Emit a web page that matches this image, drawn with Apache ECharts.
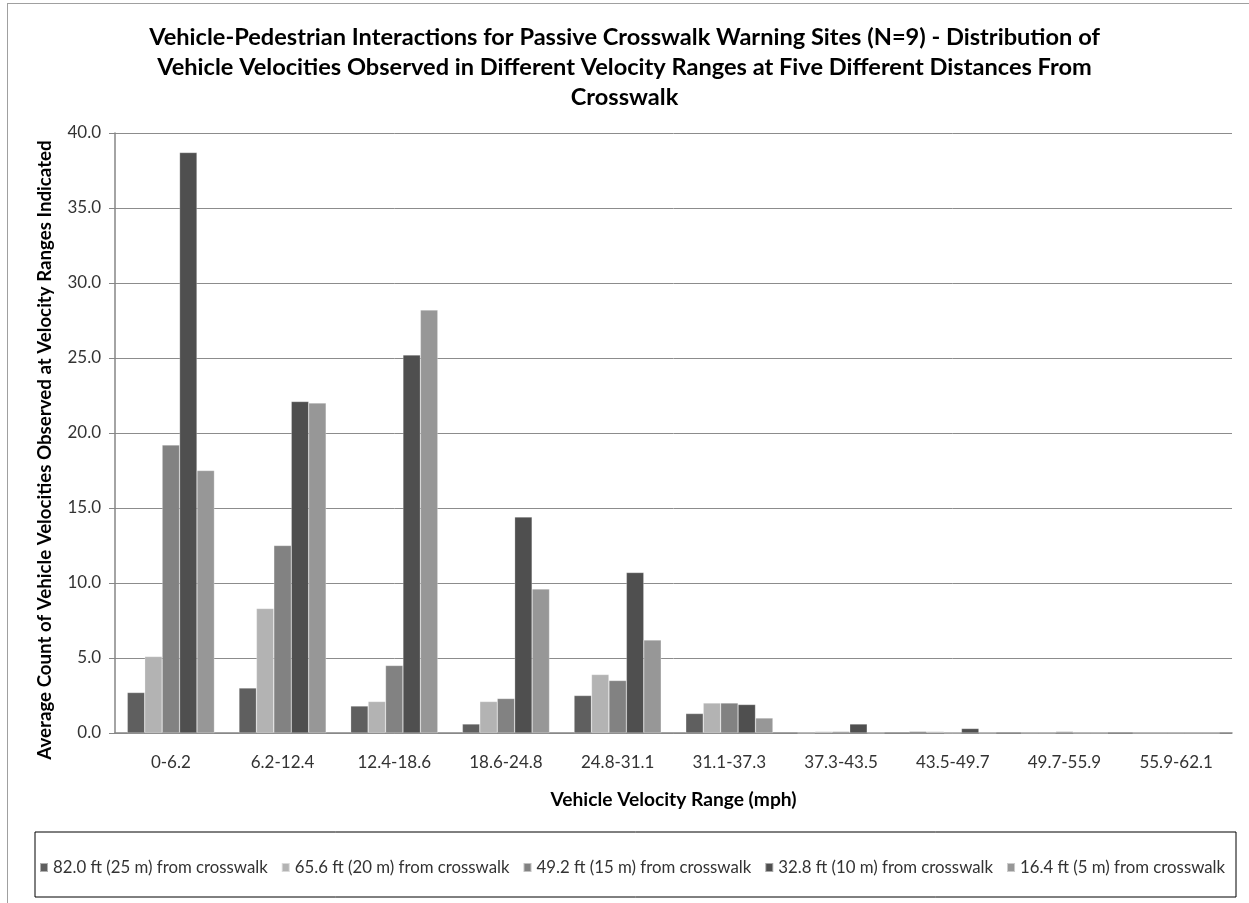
<!DOCTYPE html>
<html>
<head>
<meta charset="utf-8">
<script src="https://cdn.jsdelivr.net/npm/echarts@6/dist/echarts.min.js"></script>
<style>
  html, body { margin: 0; padding: 0; background: #fff; }
  #frame { position: absolute; left: 7px; top: 3px; width: 1260px; height: 920px; border: 1px solid #a0a0a0; }
  #chart { position: absolute; left: 0; top: 0; width: 1249px; height: 903px; }
</style>
</head>
<body>
<div id="frame"></div>
<div id="chart"></div>
<script>
// velocity ranges (mph)
const categories = ['0-6.2', '6.2-12.4', '12.4-18.6', '18.6-24.8', '24.8-31.1',
  '31.1-37.3', '37.3-43.5', '43.5-49.7', '49.7-55.9', '55.9-62.1'];

const seriesNames = ['82.0 ft (25 m) from crosswalk', '65.6 ft (20 m) from crosswalk',
  '49.2 ft (15 m) from crosswalk', '32.8 ft (10 m) from crosswalk', '16.4 ft (5 m) from crosswalk'];

// values
const at82 = [2.7, 3.0, 1.8, 0.6, 2.5, 1.3, 0.0, 0.1, 0.0, 0.0];
const at65 = [5.1, 8.3, 2.1, 2.1, 3.9, 2.0, 0.1, 0.1, 0.0, 0.0];
const at49 = [19.2, 12.5, 4.5, 2.3, 3.5, 2.0, 0.1, 0.0, 0.1, 0.0];
const at32 = [38.7, 22.1, 25.2, 14.4, 10.7, 1.9, 0.6, 0.3, 0.0, 0.0];
const at16 = [17.5, 22.0, 28.2, 9.6, 6.2, 1.0, 0.0, 0.0, 0.0, 0.0];

const colors = ['#5f5f5f', '#b3b3b3', '#828282', '#4f4f4f', '#979797'];
const font = 'Lato, sans-serif';

const chart = echarts.init(document.getElementById('chart'));

const allData = [at82, at65, at49, at32, at16];

const option = {
  animation: false,
  color: colors,
  textStyle: { fontFamily: font },
  title: {
    text: 'Vehicle-Pedestrian Interactions for Passive Crosswalk Warning Sites (N=9) - Distribution of\nVehicle Velocities Observed in Different Velocity Ranges at Five Different Distances From\nCrosswalk',
    left: 'center',
    top: 17,
    textStyle: { fontFamily: font, fontSize: 23.6, fontWeight: 'bold', color: '#000', lineHeight: 30 }
  },
  graphic: [{
    type: 'rect',
    shape: { x: 35, y: 832, width: 1201, height: 65 },
    style: { fill: 'none', stroke: '#000', lineWidth: 1 }
  }],
  legend: {
    top: 854,
    left: 34,
    itemWidth: 8,
    itemHeight: 9,
    itemGap: 13,
    icon: 'rect',
    textStyle: { fontFamily: font, fontSize: 16.8, color: '#333' },
    data: seriesNames
  },
  grid: { left: 115, right: 17, top: 133, bottom: 170 },
  xAxis: {
    type: 'category',
    data: categories,
    name: 'Vehicle Velocity Range (mph)',
    nameLocation: 'middle',
    nameGap: 57,
    nameTextStyle: { fontFamily: font, fontSize: 19.2, fontWeight: 'bold', color: '#000' },
    axisLine: { lineStyle: { color: '#868686', width: 1.5 } },
    axisTick: { show: false },
    axisLabel: { margin: 21, fontSize: 17, color: '#333', fontFamily: font }
  },
  yAxis: {
    type: 'value',
    min: 0,
    max: 40,
    interval: 5,
    name: 'Average Count of Vehicle Velocities Observed at Velocity Ranges Indicated',
    nameLocation: 'middle',
    nameGap: 61,
    nameTextStyle: { fontFamily: font, fontSize: 18.7, fontWeight: 'bold', color: '#000', padding: [0, 34, 0, 0] },
    axisLine: { show: true, lineStyle: { color: '#868686', width: 1.5 } },
    axisTick: { show: true, length: 6, lineStyle: { color: '#868686' } },
    axisLabel: { margin: 14, fontSize: 17, color: '#333', fontFamily: font, formatter: v => v.toFixed(1) },
    splitLine: { lineStyle: { color: '#8c8c8c', width: 1 } }
  },
  series: seriesNames.map((name, i) => ({
    name: name,
    type: 'bar',
    data: allData[i],
    barGap: '0%',
    barCategoryGap: '22%',
    itemStyle: { color: colors[i], borderColor: 'rgba(255,255,255,0.5)', borderWidth: 0.5 }
  }))
};

chart.setOption(option);
</script>
</body>
</html>
